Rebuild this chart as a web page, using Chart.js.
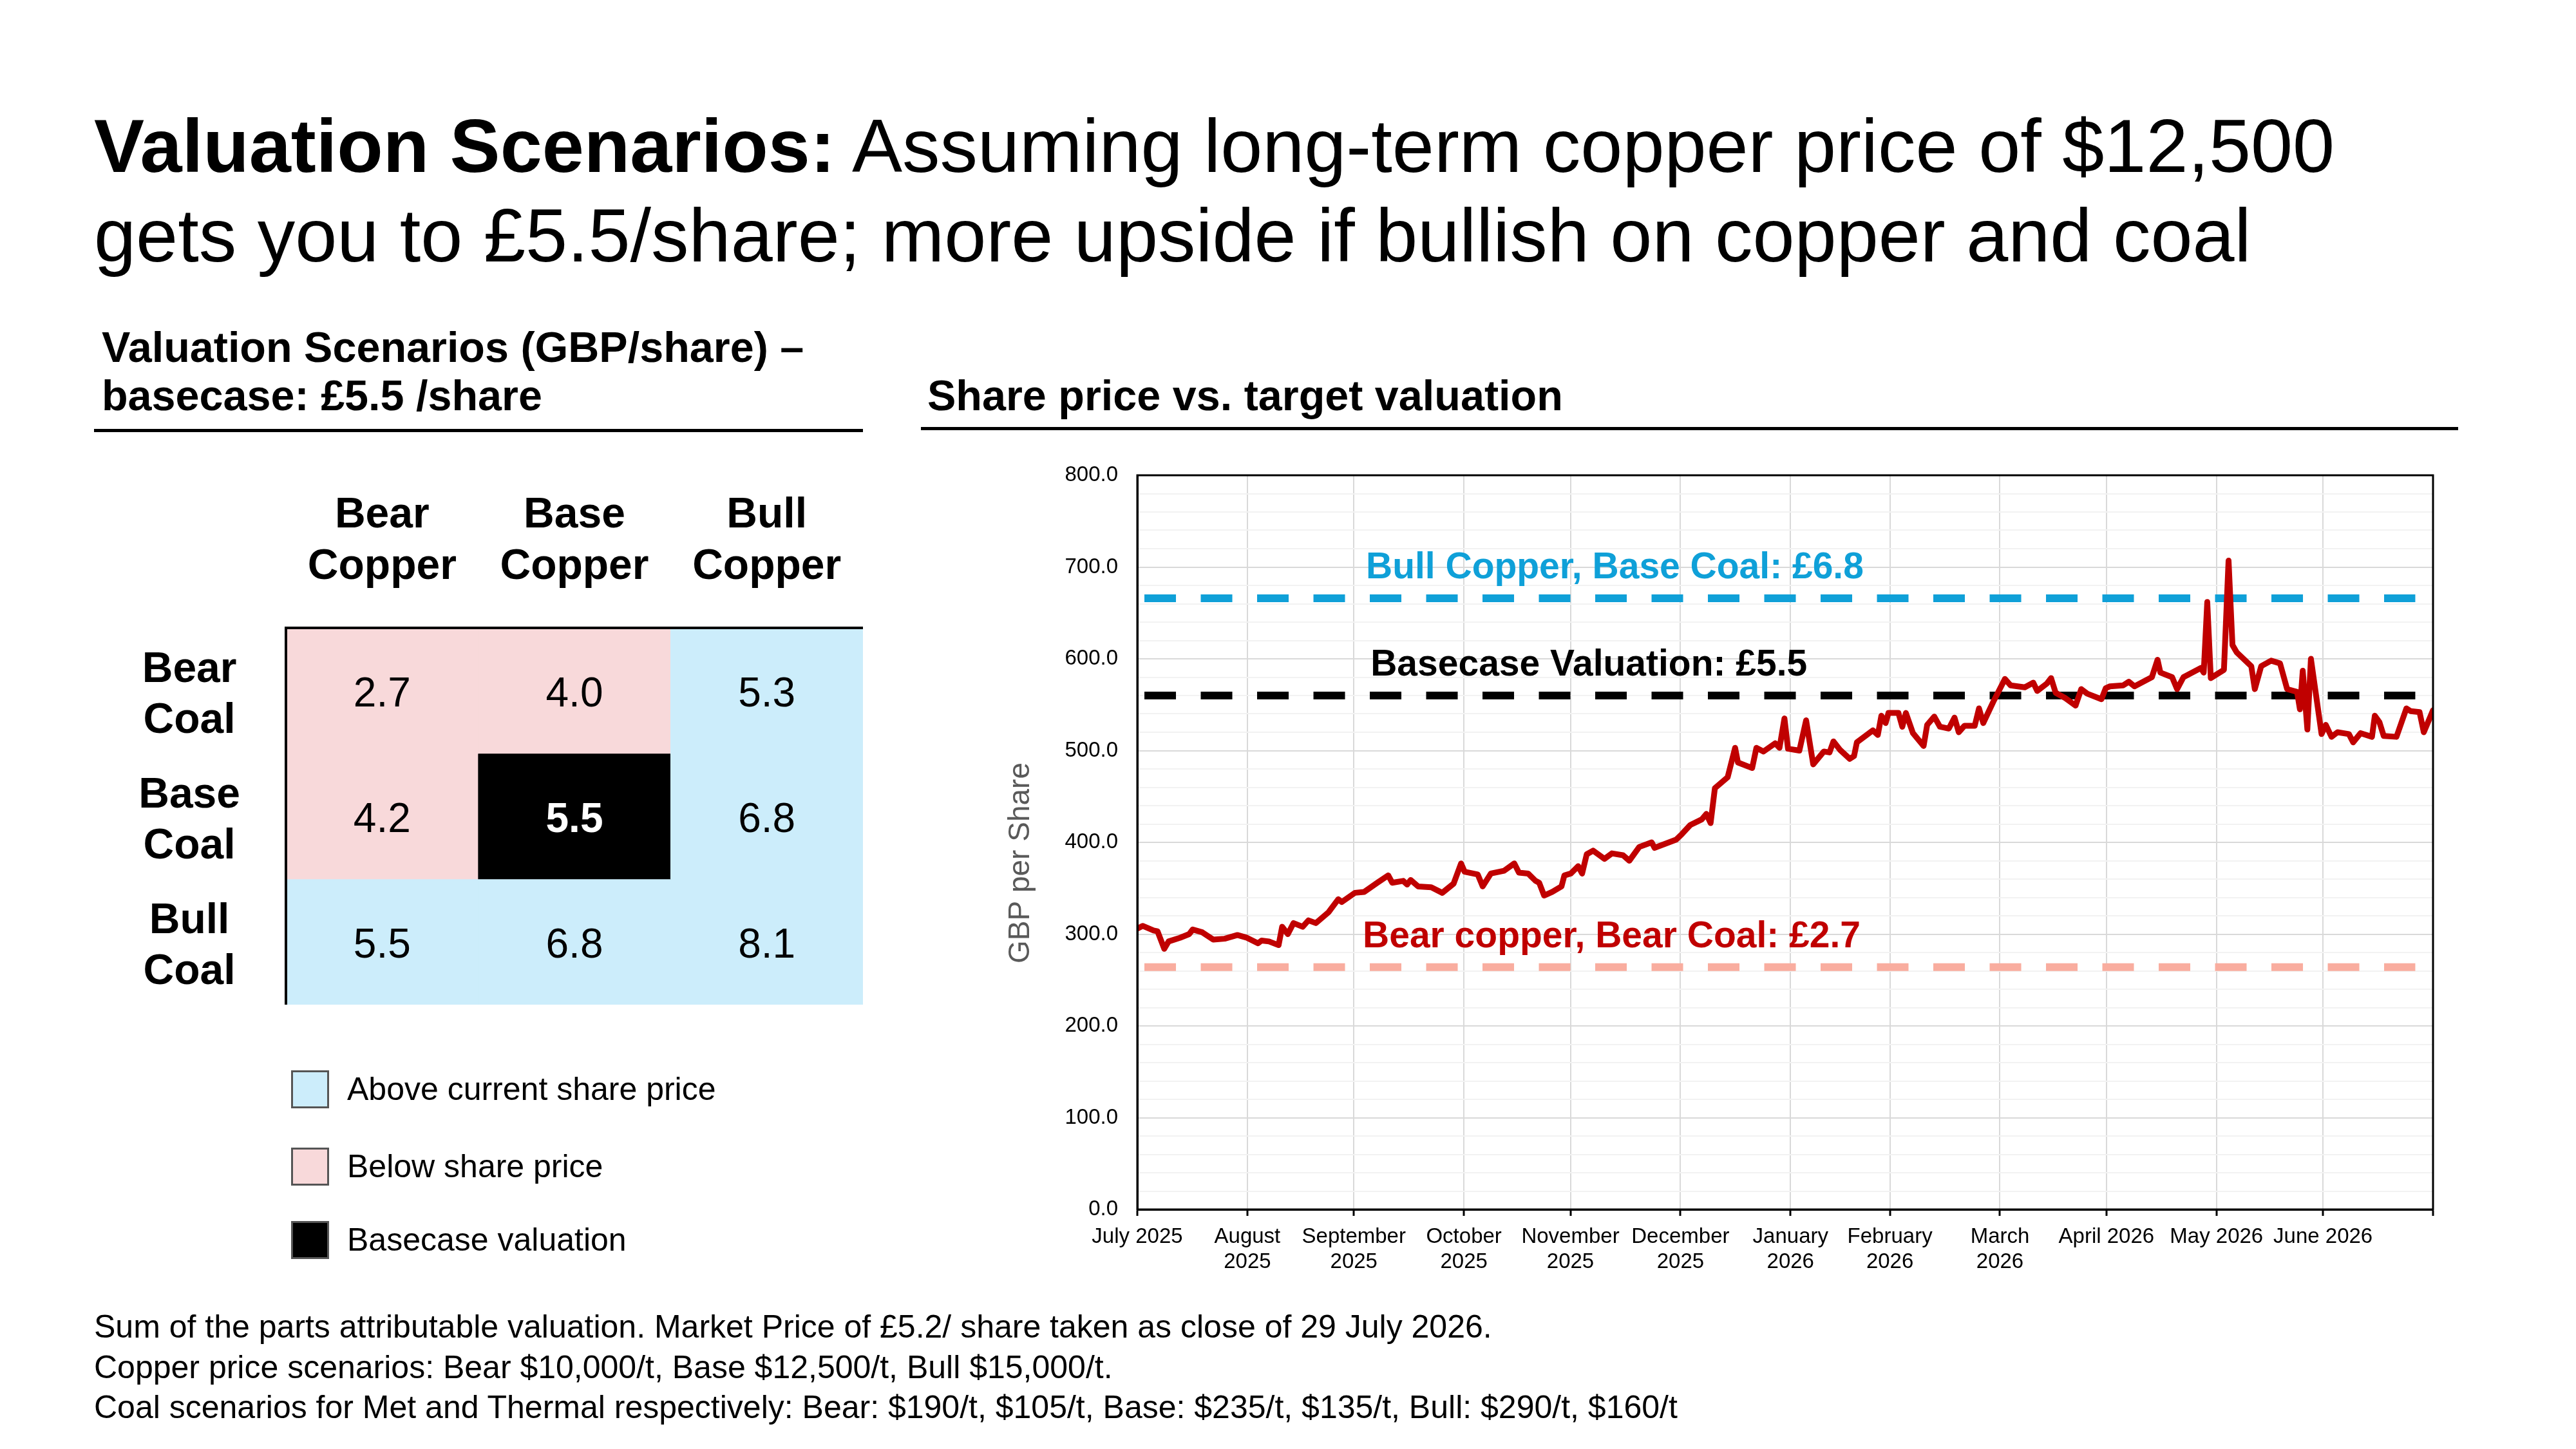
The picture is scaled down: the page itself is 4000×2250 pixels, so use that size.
<!DOCTYPE html>
<html>
<head>
<meta charset="utf-8">
<script src="https://cdn.jsdelivr.net/npm/chart.js@4.4.1/dist/chart.umd.min.js"></script>
<style>
  html, body { margin: 0; padding: 0; background: #fff; }
  body { width: 4000px; height: 2250px; position: relative; overflow: hidden;
         font-family: 'Liberation Sans', Arial, sans-serif; color: #000; }
  .abs { position: absolute; white-space: nowrap; }
  #title { left: 146px; top: 157px; font-size: 117px; line-height: 139px; }
  .sub { font-size: 66.5px; line-height: 75px; font-weight: bold; }
  .rule { position: absolute; height: 5px; background: #000; }
  #table { position: absolute; left: 150px; top: 700px; }
  #price { position: absolute; left: 1500px; top: 700px; }
  .key { position: absolute; left: 452px; width: 59px; height: 59px; box-sizing: border-box; border: 3px solid #555; }
  .keytext { position: absolute; left: 539px; font-size: 50px; line-height: 60px; white-space: nowrap; }
  #foot { left: 146px; top: 2029px; font-size: 50px; line-height: 62.5px; }
</style>
</head>
<body>
<div id="title" class="abs"><b>Valuation Scenarios:</b> Assuming long-term copper price of $12,500<br>gets you to £5.5/share; more upside if bullish on copper and coal</div>

<div class="abs sub" style="left:158px; top:502px;">Valuation Scenarios (GBP/share) –<br>basecase: £5.5 /share</div>
<div class="rule" style="left:146px; top:666px; width:1194px;"></div>
<div class="abs sub" style="left:1440px; top:577px;">Share price vs. target valuation</div>
<div class="rule" style="left:1430px; top:663px; width:2387px;"></div>

<canvas id="table" width="1190" height="860"></canvas>
<canvas id="price" width="2300" height="1300"></canvas>
<div id="legend"></div>

<div id="foot" class="abs">Sum of the parts attributable valuation. Market Price of £5.2/ share taken as close of 29 July 2026.<br>Copper price scenarios: Bear $10,000/t, Base $12,500/t, Bull $15,000/t.<br>Coal scenarios for Met and Thermal respectively: Bear: $190/t, $105/t, Base: $235/t, $135/t, Bull: $290/t, $160/t</div>

<script>
const FONT = "'Liberation Sans', Arial, sans-serif";

// valuation grid (GBP/share): rows = coal scenario, columns = copper scenario
const copperScenarios = [['Bear', 'Copper'], ['Base', 'Copper'], ['Bull', 'Copper']];
const coalScenarios = [['Bear', 'Coal'], ['Base', 'Coal'], ['Bull', 'Coal']];
const valuations = [
  [2.7, 4.0, 5.3],
  [4.2, 5.5, 6.8],
  [5.5, 6.8, 8.1]
];
const cellClass = [
  ['below', 'below', 'above'],
  ['below', 'base', 'above'],
  ['above', 'above', 'above']
];
const cellColors = { above: '#CCEDFB', below: '#F8D9DA', base: '#000000' };
const legendKeys = ['above', 'below', 'base'];
const legendLabels = ['Above current share price', 'Below share price', 'Basecase valuation'];

// share price (GBp), x = days from the left edge of the axis (end of July 2025)
const priceDays = [0, 1.5, 4.6, 5.7, 7.6, 8.8, 12, 14.6, 15.6, 18.3, 21.4, 24.6, 28.2, 30.9, 34, 35, 37.1, 39.8, 40.8, 42.4,
  44, 46.6, 48.2, 50.3, 53.9, 56.6, 57.6, 61.3, 63.9, 67.6, 70.7, 71.8, 74.9, 76, 77, 79.1, 82.8, 85.9, 89.1, 91.2,
  92.2, 95.9, 97.3, 99.6, 103.3, 106.2, 107.5, 110.1, 112.2, 113.2, 114.6, 116.9, 119.5, 120.3, 122.1, 124.2, 125.3, 126.6, 128.4, 131.6,
  133.7, 136.8, 138.6, 141.4, 144.9, 145.7, 151.8, 153.4, 155.8, 159, 160.3, 161.5, 162.7, 166.3, 168.4, 169.2, 173.2, 174.4, 176.4, 179.7,
  180.9, 182.3, 183.3, 186.5, 188.4, 190.4, 193.4, 195, 196.1, 197.9, 200.7, 201.9, 202.7, 207.2, 208.6, 209.6, 210.8, 211.6, 214.4, 215.5,
  216.5, 218.5, 221.5, 222.5, 224.5, 226.1, 228.6, 230.2, 231.4, 233, 235.9, 237.1, 238.3, 241.1, 244.4, 246, 250, 252.4, 253.5, 256.2,
  257.4, 258.7, 261.5, 264.3, 265.9, 267.6, 271.6, 272.8, 274, 277.7, 279.3, 280.9, 285.8, 287.4, 288.2, 291.5, 292.9, 294.7, 299.6, 300.4,
  301.4, 302.4, 306.1, 307.4, 308.5, 309.7, 313.8, 314.8, 316.6, 319.4, 321.9, 323.9, 326.7, 327.5, 328.3, 329.6, 330.6, 333.6, 334.8, 336.4,
  338.1, 341.3, 342.5, 344.6, 347.8, 348.6, 349.9, 351.1, 354.7, 357.5, 358.7, 361.2, 362.4, 365];
const priceGBp = [306, 309, 304, 303, 284, 292, 296, 300, 305, 302, 294, 295, 299, 296, 290, 293, 292, 288, 308, 300,
  312, 308, 315, 312, 324, 338, 335, 345, 346, 356, 364, 356, 358, 354, 359, 352, 351, 345, 355, 377,
  368, 365, 352, 366, 369, 377, 367, 366, 358, 356, 342, 346, 352, 364, 366, 374, 366, 387, 391, 382,
  388, 386, 380, 395, 400, 394, 403, 409, 419, 425, 431, 421, 459, 471, 503, 487, 481, 503, 499, 508,
  503, 535, 502, 500, 533, 485, 499, 498, 510, 501, 491, 494, 509, 522, 517, 538, 530, 541, 541, 526,
  541, 519, 505, 528, 537, 526, 524, 536, 520, 527, 527, 546, 530, 553, 578, 571, 569, 574, 565, 573,
  579, 563, 557, 549, 567, 562, 556, 568, 570, 571, 575, 570, 580, 599, 585, 580, 567, 580, 590, 585,
  662, 579, 588, 707, 615, 607, 592, 567, 592, 598, 595, 567, 564, 545, 587, 523, 600, 518, 528, 515,
  520, 518, 509, 519, 515, 538, 531, 516, 515, 546, 543, 542, 520, 544];

// month ticks (days from left edge) and their labels
const monthTickDays = [0, 31, 61, 92, 122, 153, 184, 212, 243, 273, 304, 334, 365];
const monthTickLabels = ['July 2025', ['August', '2025'], ['September', '2025'], ['October', '2025'], ['November', '2025'],
  ['December', '2025'], ['January', '2026'], ['February', '2026'], ['March', '2026'], 'April 2026', 'May 2026', 'June 2026', ''];

// target valuation lines (GBp)
const refLevels = [666, 560, 264];
const refLabels = ['Bull Copper, Base Coal: £6.8', 'Basecase Valuation: £5.5', 'Bear copper, Bear Coal: £2.7'];
const refColors = ['#0FA0D8', '#000000', '#F9AD9F'];
const refTextColors = ['#0FA0D8', '#000000', '#C00000'];
const refLabelDays = [64.4, 65.7, 63.5];
const refSpan = [2, 360];

// legend squares
const legendEl = document.getElementById('legend');
const legendCenters = [1691, 1811, 1925];
legendKeys.forEach((k, i) => {
  const sq = document.createElement('div');
  sq.className = 'key';
  sq.style.top = (legendCenters[i] - 29.5) + 'px';
  sq.style.background = cellColors[k];
  legendEl.appendChild(sq);
  const tx = document.createElement('div');
  tx.className = 'keytext';
  tx.style.top = (legendCenters[i] - 30) + 'px';
  tx.textContent = legendLabels[i];
  legendEl.appendChild(tx);
});

// numbers inside the grid cells
const cellText = {
  id: 'cellText',
  afterDatasetsDraw(chart) {
    const ctx = chart.ctx;
    ctx.save();
    ctx.textAlign = 'center';
    ctx.textBaseline = 'middle';
    valuations.forEach((row, i) => {
      const meta = chart.getDatasetMeta(i);
      row.forEach((v, j) => {
        const bar = meta.data[j];
        const isBase = cellClass[i][j] === 'base';
        ctx.font = (isBase ? 'bold ' : '') + '64px ' + FONT;
        ctx.fillStyle = isBase ? '#fff' : '#000';
        ctx.fillText(v.toFixed(1), bar.x, (bar.y + bar.base) / 2 + 7);
      });
    });
    ctx.restore();
  }
};

new Chart(document.getElementById('table'), {
  type: 'bar',
  data: {
    labels: copperScenarios,
    datasets: coalScenarios.map((row, i) => ({
      label: row.join(' '),
      data: valuations[i].map(() => 1),
      backgroundColor: cellClass[i].map(c => cellColors[c]),
      borderWidth: 0,
      categoryPercentage: 1,
      barPercentage: 1
    }))
  },
  options: {
    responsive: false,
    animation: false,
    devicePixelRatio: 1,
    layout: { padding: 0 },
    plugins: { legend: { display: false }, tooltip: { enabled: false } },
    scales: {
      x: {
        position: 'top',
        stacked: true,
        grid: { display: false, drawTicks: false },
        border: { display: true, color: '#000', width: 4, z: 1 },
        ticks: { color: '#000', padding: 55, maxRotation: 0, autoSkip: false,
                 font: { size: 66, weight: 'bold', family: FONT, lineHeight: 1.2 } },
        afterFit: s => { s.height = 275; s.paddingLeft = 0; s.paddingRight = 0; }
      },
      y: {
        stacked: true,
        reverse: true,
        min: 0,
        max: 3,
        grid: { display: false, drawTicks: false },
        border: { display: true, color: '#000', width: 4, z: 1 },
        afterBuildTicks: s => { s.ticks = coalScenarios.map((_, i) => ({ value: i + 0.5 })); },
        ticks: { callback: (v, i) => coalScenarios[i], crossAlign: 'center', padding: 71, labelOffset: 8, color: '#000',
                 font: { size: 66, weight: 'bold', family: FONT, lineHeight: 1.2 } },
        afterFit: s => { s.width = 294; s.paddingTop = 0; s.paddingBottom = 0; }
      }
    }
  },
  plugins: [cellText]
});

// labels above the valuation lines
const refText = {
  id: 'refText',
  afterDatasetsDraw(chart) {
    const { ctx, scales: { x, y } } = chart;
    ctx.save();
    ctx.font = 'bold 57px ' + FONT;
    ctx.textAlign = 'left';
    ctx.textBaseline = 'alphabetic';
    refLevels.forEach((lvl, i) => {
      ctx.fillStyle = refTextColors[i];
      ctx.fillText(refLabels[i], x.getPixelForValue(refLabelDays[i]), y.getPixelForValue(lvl) - 31);
    });
    ctx.restore();
  }
};

// box round the plot area and the y-axis title (sits a little below centre in the original)
const frame = {
  id: 'frame',
  afterDraw(chart) {
    const { ctx, chartArea: a } = chart;
    ctx.save();
    ctx.strokeStyle = '#000';
    ctx.lineWidth = 3;
    ctx.strokeRect(a.left, a.top, a.right - a.left, a.bottom - a.top);
    ctx.translate(a.left - 181, (a.top + a.bottom) / 2 + 32);
    ctx.rotate(-Math.PI / 2);
    ctx.font = '46px ' + FONT;
    ctx.fillStyle = '#595959';
    ctx.textAlign = 'center';
    ctx.textBaseline = 'middle';
    ctx.fillText('GBP per Share', 0, 0);
    ctx.restore();
  }
};

new Chart(document.getElementById('price'), {
  type: 'line',
  data: {
    datasets: [
      {
        label: 'Share price',
        data: priceDays.map((d, i) => ({ x: d, y: priceGBp[i] })),
        borderColor: '#C00000',
        borderWidth: 9,
        pointRadius: 0,
        tension: 0,
        borderJoinStyle: 'round',
        borderCapStyle: 'round'
      },
      ...refLevels.map((lvl, i) => ({
        label: refLabels[i],
        data: refSpan.map(d => ({ x: d, y: lvl })),
        borderColor: refColors[i],
        borderWidth: 12,
        borderDash: [49, 38.5],
        borderCapStyle: 'butt',
        pointRadius: 0
      }))
    ]
  },
  options: {
    responsive: false,
    animation: false,
    devicePixelRatio: 1,
    layout: { padding: { top: 38, right: 22, left: 0, bottom: 0 } },
    plugins: { legend: { display: false }, tooltip: { enabled: false } },
    scales: {
      x: {
        type: 'linear',
        min: 0,
        max: 365,
        afterBuildTicks: s => { s.ticks = monthTickDays.map(v => ({ value: v })); },
        ticks: { callback: (v, i) => monthTickLabels[i], autoSkip: false, maxRotation: 0, padding: 13, color: '#000',
                 font: { size: 33, family: FONT, lineHeight: 1.2 } },
        grid: { color: '#D9D9D9', lineWidth: 2, drawTicks: true, tickLength: 10, tickColor: '#000', tickWidth: 3 },
        border: { color: '#000', width: 3, z: 1 },
        afterFit: s => { s.height = 122; s.paddingLeft = 0; s.paddingRight = 0; }
      },
      y: {
        min: 0,
        max: 800,
        ticks: { stepSize: 20, autoSkip: false, padding: 30, color: '#000',
                 font: { size: 33, family: FONT },
                 callback: v => (v % 100 === 0 ? v.toFixed(1) : '') },
        grid: { drawTicks: false, lineWidth: 2,
                color: c => (c.tick && c.tick.value % 100 === 0 ? '#D9D9D9' : '#F2F2F2') },
        border: { color: '#000', width: 3, z: 1 },
        afterFit: s => { s.width = 266; s.paddingTop = 0; s.paddingBottom = 0; }
      }
    }
  },
  plugins: [refText, frame]
});
</script>
</body>
</html>
